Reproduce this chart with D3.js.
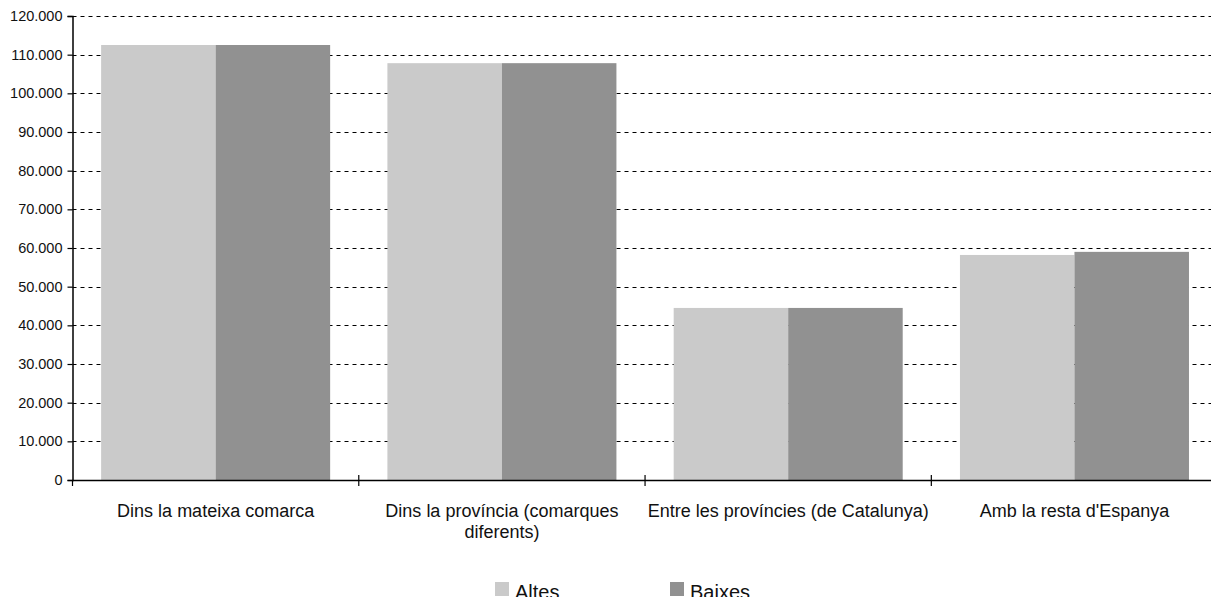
<!DOCTYPE html>
<html>
<head>
<meta charset="utf-8">
<script src="https://cdn.jsdelivr.net/npm/d3@7"></script>
<style>
  html, body { margin: 0; padding: 0; background: #fff; overflow: hidden; }
  svg { display: block; font-family: "Liberation Sans", Arial, Helvetica, sans-serif; }
</style>
</head>
<body>
<svg id="chart" width="1211" height="597"></svg>
<script>
const categories = [
  ["Dins la mateixa comarca"],
  ["Dins la província (comarques", "diferents)"],
  ["Entre les províncies (de Catalunya)"],
  ["Amb la resta d'Espanya"]
];
const seriesNames = ["Altes", "Baixes"];
const altes = [112500, 107800, 44500, 58200];
const baixes = [112500, 107800, 44500, 59000];
const yTicks = [0, 10000, 20000, 30000, 40000, 50000, 60000, 70000, 80000, 90000, 100000, 110000, 120000];
const colors = ["#cacaca", "#919191"];

(function () {
const svg = d3.select("#chart");
const pLeft = 72.5, pRight = 1217.6, pTop = 16, pBottom = 480;

const x0 = d3.scaleBand().domain(d3.range(categories.length)).range([pLeft, pRight]).paddingInner(0.2).paddingOuter(0.1);
const x1 = d3.scaleBand().domain(d3.range(seriesNames.length)).range([0, x0.bandwidth()]);
const y = d3.scaleLinear().domain([0, 120000]).range([pBottom, pTop]);
const step = x0.step();
const fmt = v => d3.format(",")(v).replace(/,/g, ".");

// gridlines
svg.append("g").selectAll("line").data(yTicks.filter(d => d > 0)).join("line")
  .attr("x1", pLeft).attr("x2", 1211)
  .attr("y1", d => Math.round(y(d)) + 0.5).attr("y2", d => Math.round(y(d)) + 0.5)
  .attr("stroke", "#000").attr("stroke-width", 1).attr("stroke-dasharray", "4,4");

// bars
const values = [altes, baixes];
const g = svg.append("g");
values.forEach((vals, si) => {
  g.selectAll(null).data(vals).join("rect")
    .attr("x", (d, i) => x0(i) + x1(si))
    .attr("width", x1.bandwidth())
    .attr("y", d => y(d))
    .attr("height", d => y(0) - y(d))
    .attr("fill", colors[si]);
});

// y axis
const yAxis = d3.axisLeft(y).tickValues(yTicks).tickFormat(fmt).tickSize(5).tickPadding(5);
const ya = svg.append("g").attr("transform", `translate(${pLeft},0)`).call(yAxis);
ya.select(".domain").attr("stroke", "#000").attr("stroke-width", 1.5);
ya.selectAll(".tick line").attr("stroke", "#000").attr("stroke-width", 1.2);
ya.selectAll(".tick text").attr("font-size", "14.5px").attr("fill", "#111")
  .attr("font-family", "Liberation Sans, Arial, sans-serif");

// x axis line
svg.append("line").attr("x1", pLeft).attr("x2", 1211).attr("y1", pBottom + 0.5).attr("y2", pBottom + 0.5)
  .attr("stroke", "#000").attr("stroke-width", 1.5);
// x boundary ticks
const bounds = d3.range(categories.length + 1).map(i => pLeft + i * step);
svg.append("g").selectAll("line").data(bounds).join("line")
  .attr("x1", d => d).attr("x2", d => d)
  .attr("y1", (d, i) => i === 0 ? pBottom : pBottom - 5).attr("y2", pBottom + 6)
  .attr("stroke", "#000").attr("stroke-width", 1.2);

// x labels
const lab = svg.append("g").selectAll("text").data(categories).join("text")
  .attr("text-anchor", "middle")
  .attr("font-size", "18px").attr("fill", "#111")
  .attr("transform", (d, i) => `translate(${x0(i) + x0.bandwidth() / 2},517)`);
lab.selectAll("tspan").data(d => d).join("tspan")
  .attr("x", 0).attr("y", (d, i) => i * 21).text(d => d);

// legend
const legX = [495, 670];
const leg = svg.append("g").selectAll("g").data(seriesNames).join("g")
  .attr("transform", (d, i) => `translate(${legX[i]},582)`);
leg.append("rect").attr("width", 14).attr("height", 14).attr("fill", (d, i) => colors[i]);
leg.append("text").attr("x", 20).attr("y", 17).attr("font-size", "20px").attr("fill", "#111").text(d => d);
})();
</script>
</body>
</html>
